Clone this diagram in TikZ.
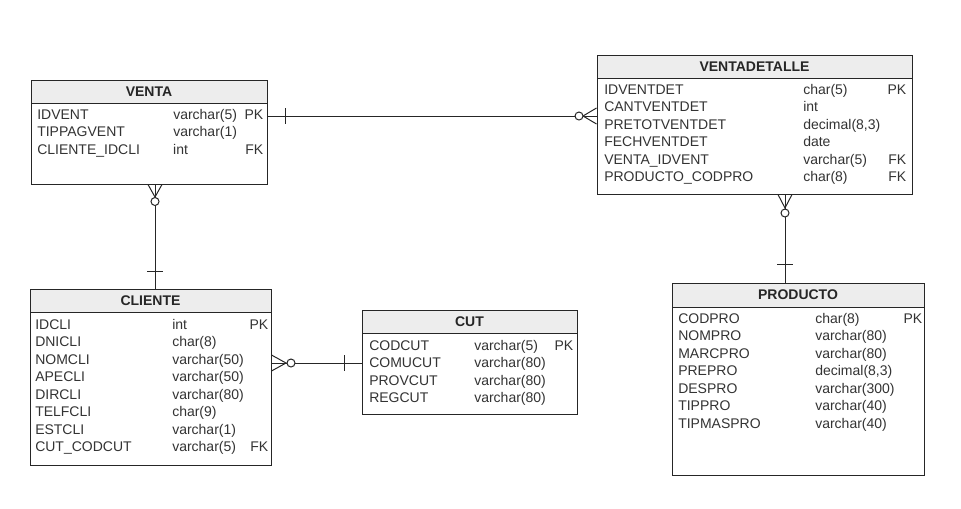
\documentclass[tikz,border=0pt]{standalone}
\usepackage{fontspec}
\setmainfont{Liberation Sans}
\usepackage{tikz}

\begin{document}
\begin{tikzpicture}[
							x=0.75pt, y=-0.75pt,
							tableHead/.style={rectangle, draw=black!85, fill=black!7, line width=0.75pt, inner sep=0pt, minimum height=17.25pt, font=\fontsize{10.5pt}{12pt}\selectfont\bfseries, text=black!85},
							tableBody/.style={rectangle, draw=black!85, fill=white, line width=0.75pt, inner sep=0pt},
							field/.style={anchor=base west, inner sep=0pt, font=\fontsize{10.5pt}{12pt}\selectfont, text=black!80},
							relLine/.style={draw=black!85, line width=0.75pt}
						]
						
						\useasboundingbox (0,0) rectangle (961,508);
						
						% VENTA
						\node[tableHead, minimum width=177pt] (venta) at (149,91.5) {VENTA};
						\node[tableBody, minimum width=177pt, minimum height=60.75pt] (ventaBody) at (149,143.5) {};
						\node[field, text width=169.5pt] (idvent) at (37,119) {\makebox[102pt][l]{IDVENT}varchar(5)\hfill PK};
						\node[field, text width=169.5pt] (tippagvent) at (37,136.5) {\makebox[102pt][l]{TIPPAGVENT}varchar(1)\hfill};
						\node[field, text width=169.5pt] (clienteIdcli) at (37,154) {\makebox[102pt][l]{CLIENTE\_IDCLI}int\hfill FK};
						
						% VENTADETALLE
						\node[tableHead, minimum width=236.25pt] (ventadetalle) at (754.5,66.5) {VENTADETALLE};
						\node[tableBody, minimum width=236.25pt, minimum height=87pt] (ventadetalleBody) at (754.5,136) {};
						\node[field, text width=226.5pt] (idventdet) at (604,94) {\makebox[149.25pt][l]{IDVENTDET}char(5)\hfill PK};
						\node[field, text width=226.5pt] (cantventdet) at (604,111.5) {\makebox[149.25pt][l]{CANTVENTDET}int\hfill};
						\node[field, text width=226.5pt] (pretotventdet) at (604,129) {\makebox[149.25pt][l]{PRETOTVENTDET}decimal(8,3)\hfill};
						\node[field, text width=226.5pt] (fechventdet) at (604,146.5) {\makebox[149.25pt][l]{FECHVENTDET}date\hfill};
						\node[field, text width=226.5pt] (ventaIdvent) at (604,164) {\makebox[149.25pt][l]{VENTA\_IDVENT}varchar(5)\hfill FK};
						\node[field, text width=226.5pt] (productoCodpro) at (604,181.5) {\makebox[149.25pt][l]{PRODUCTO\_CODPRO}char(8)\hfill FK};
						
						% CLIENTE
						\node[tableHead, minimum width=180.75pt] (cliente) at (150.5,300.5) {CLIENTE};
						\node[tableBody, minimum width=180.75pt, minimum height=114.75pt] (clienteBody) at (150.5,388.5) {};
						\node[field, text width=174.75pt] (idcli) at (35,329) {\makebox[102.75pt][l]{IDCLI}int\hfill PK};
						\node[field, text width=174.75pt] (dnicli) at (35,346.5) {\makebox[102.75pt][l]{DNICLI}char(8)\hfill};
						\node[field, text width=174.75pt] (nomcli) at (35,364) {\makebox[102.75pt][l]{NOMCLI}varchar(50)\hfill};
						\node[field, text width=174.75pt] (apecli) at (35,381.5) {\makebox[102.75pt][l]{APECLI}varchar(50)\hfill};
						\node[field, text width=174.75pt] (dircli) at (35,399) {\makebox[102.75pt][l]{DIRCLI}varchar(80)\hfill};
						\node[field, text width=174.75pt] (telfcli) at (35,416.5) {\makebox[102.75pt][l]{TELFCLI}char(9)\hfill};
						\node[field, text width=174.75pt] (estcli) at (35,434) {\makebox[102.75pt][l]{ESTCLI}varchar(1)\hfill};
						\node[field, text width=174.75pt] (cutCodcut) at (35,451.5) {\makebox[102.75pt][l]{CUT\_CODCUT}varchar(5)\hfill FK};
						
						% CUT
						\node[tableHead, minimum width=161.25pt] (cut) at (469.5,321.5) {CUT};
						\node[tableBody, minimum width=161.25pt, minimum height=60.75pt] (cutBody) at (469.5,373.5) {};
						\node[field, text width=153pt] (codcut) at (369,350) {\makebox[78.75pt][l]{CODCUT}varchar(5)\hfill PK};
						\node[field, text width=153pt] (comucut) at (369,367.5) {\makebox[78.75pt][l]{COMUCUT}varchar(80)\hfill};
						\node[field, text width=153pt] (provcut) at (369,385) {\makebox[78.75pt][l]{PROVCUT}varchar(80)\hfill};
						\node[field, text width=153pt] (regcut) at (369,402.5) {\makebox[78.75pt][l]{REGCUT}varchar(80)\hfill};
						
						% PRODUCTO
						\node[tableHead, minimum width=189pt, minimum height=18pt] (producto) at (798,295) {PRODUCTO};
						\node[tableBody, minimum width=189pt, minimum height=126pt] (productoBody) at (798,391) {};
						\node[field, text width=183pt] (codpro) at (678,323) {\makebox[102.75pt][l]{CODPRO}char(8)\hfill PK};
						\node[field, text width=183pt] (nompro) at (678,340.5) {\makebox[102.75pt][l]{NOMPRO}varchar(80)\hfill};
						\node[field, text width=183pt] (marcpro) at (678,358) {\makebox[102.75pt][l]{MARCPRO}varchar(80)\hfill};
						\node[field, text width=183pt] (prepro) at (678,375.5) {\makebox[102.75pt][l]{PREPRO}decimal(8,3)\hfill};
						\node[field, text width=183pt] (despro) at (678,393) {\makebox[102.75pt][l]{DESPRO}varchar(300)\hfill};
						\node[field, text width=183pt] (tippro) at (678,410.5) {\makebox[102.75pt][l]{TIPPRO}varchar(40)\hfill};
						\node[field, text width=183pt] (tipmaspro) at (678,428) {\makebox[102.75pt][l]{TIPMASPRO}varchar(40)\hfill};
						
						% VENTA -- VENTADETALLE
						\draw[relLine] (ventaBody.east |- 0,116) -- (ventadetalleBody.west |- 0,116);
						\draw[relLine] (285,108) -- (285,124);
						\draw[relLine] (ventadetalleBody.west |- 0,108) -- (583,116) -- (ventadetalleBody.west |- 0,124);
						\draw[relLine, fill=white] (579,116) circle (4);
						
						% VENTA -- CLIENTE
						\draw[relLine] (ventaBody.south -| 155,0) -- (cliente.north -| 155,0);
						\draw[relLine] (147,271) -- (163,271);
						\draw[relLine] (ventaBody.south -| 148,0) -- (155,197) -- (ventaBody.south -| 162,0);
						\draw[relLine, fill=white] (155,201.5) circle (4);
						
						% VENTADETALLE -- PRODUCTO
						\draw[relLine] (ventadetalleBody.south -| 785,0) -- (producto.north -| 785,0);
						\draw[relLine] (777,264) -- (793,264);
						\draw[relLine] (ventadetalleBody.south -| 778,0) -- (785,208) -- (ventadetalleBody.south -| 792,0);
						\draw[relLine, fill=white] (785,213) circle (4);
						
						% CLIENTE -- CUT
						\draw[relLine] (clienteBody.east |- 0,363) -- (cutBody.west |- 0,363);
						\draw[relLine] (344,355) -- (344,371);
						\draw[relLine] (clienteBody.east |- 0,355) -- (286,363) -- (clienteBody.east |- 0,371);
						\draw[relLine, fill=white] (291,363) circle (4);
					\end{tikzpicture}
\end{document}
